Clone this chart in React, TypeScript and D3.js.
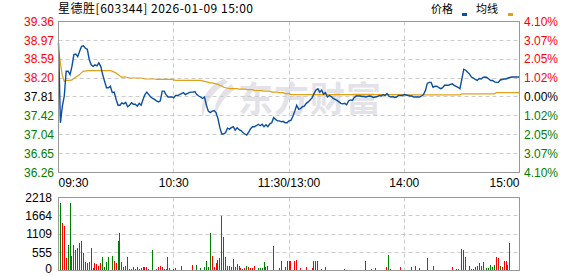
import React from "react";
import * as d3 from "d3";

const W = 578;
const H = 276;

const title = "星德胜[603344] 2026-01-09 15:00";
const legendNames = ["价格", "均线"];
const legendColors = ["#0b4fa0", "#e0a11b"];

const prevClose = 37.81;
const priceTicks = [39.36, 38.97, 38.59, 38.2, 37.81, 37.42, 37.04, 36.65, 36.26];
const priceTickLabels = ["39.36", "38.97", "38.59", "38.20", "37.81", "37.42", "37.04", "36.65", "36.26"];
const pctTickLabels = ["4.10%", "3.07%", "2.05%", "1.02%", "0.00%", "1.02%", "2.05%", "3.07%", "4.10%"];
const volTicks = [2218, 1664, 1109, 555, 0];
const timeLabels = ["09:30", "10:30", "11:30/13:00", "14:00", "15:00"];
const timeTickIdx = [0, 60, 120, 180, 240];

const price = [
  38.92, 37.28, 37.62, 37.83, 38.34, 38.34, 38.27, 38.44, 38.68, 38.69,
  38.64, 38.75, 38.85, 38.86, 38.81, 38.79, 38.58, 38.47, 38.44, 38.47,
  38.45, 38.51, 38.44, 38.27, 38.13, 38.0, 38.0, 38.03, 37.9, 37.91,
  37.76, 37.64, 37.64, 37.69, 37.67, 37.7, 37.61, 37.64, 37.69, 37.66,
  37.66, 37.62, 37.68, 37.64, 37.76, 37.86, 37.91, 37.86, 37.81, 37.78,
  37.76, 37.73, 37.71, 37.73, 37.93, 37.93, 37.86, 37.81, 37.81, 37.81,
  37.79, 37.84, 37.84, 37.86, 37.88, 37.9, 37.86, 37.88, 37.9, 37.91,
  37.91, 37.92, 37.86, 37.83, 37.81, 37.78, 37.81, 37.64, 37.52, 37.49,
  37.52, 37.53, 37.49, 37.37, 37.18, 37.05, 37.05, 37.08, 37.17, 37.15,
  37.18, 37.2, 37.13, 37.18, 37.14, 37.12, 37.08, 37.05, 37.03, 37.09,
  37.16, 37.2, 37.2, 37.22, 37.25, 37.22, 37.25, 37.2, 37.24, 37.2,
  37.26, 37.28, 37.39, 37.35, 37.32, 37.32, 37.3, 37.31, 37.28, 37.28,
  37.32, 37.33, 37.41, 37.52, 37.64, 37.56, 37.57, 37.61, 37.62, 37.68,
  37.71, 37.75, 37.79, 37.88, 37.95, 37.98, 37.91, 37.95, 37.87, 37.9,
  37.81, 37.84, 37.82, 37.78, 37.76, 37.74, 37.71, 37.68, 37.67, 37.68,
  37.65, 37.73, 37.75, 37.74, 37.8, 37.83, 37.83, 37.83, 37.82, 37.82,
  37.81, 37.82, 37.83, 37.82, 37.8, 37.81, 37.82, 37.84, 37.83, 37.86,
  37.84, 37.88, 37.83, 37.81, 37.82, 37.8, 37.81, 37.84, 37.84, 37.84,
  37.86, 37.85, 37.84, 37.83, 37.83, 37.81, 37.81, 37.81, 37.81, 37.83,
  37.86, 37.94, 38.09, 38.11, 38.11, 38.01, 38.03, 38.03, 38.0, 37.98,
  38.0, 38.05, 38.05, 38.05, 38.07, 38.08, 38.05, 38.03, 38.01, 37.98,
  38.18, 38.38, 38.36, 38.32, 38.28, 38.22, 38.2, 38.17, 38.15, 38.19,
  38.18, 38.21, 38.22, 38.21, 38.18, 38.15, 38.15, 38.12, 38.11, 38.11,
  38.16, 38.17, 38.18, 38.18, 38.2, 38.21, 38.22, 38.22, 38.22, 38.22,
  38.22,
];

const avgLine = [
  38.8, 38.5, 38.25, 38.13, 38.15, 38.15, 38.15, 38.16, 38.19, 38.22,
  38.24, 38.27, 38.31, 38.34, 38.34, 38.35, 38.35, 38.35, 38.35, 38.35,
  38.35, 38.35, 38.35, 38.35, 38.35, 38.35, 38.35, 38.35, 38.34, 38.32,
  38.3, 38.27, 38.24, 38.22, 38.22, 38.22, 38.21, 38.2, 38.2, 38.2,
  38.2, 38.2, 38.2, 38.2, 38.19, 38.18, 38.18, 38.18, 38.18, 38.18,
  38.18, 38.17, 38.17, 38.17, 38.17, 38.17, 38.17, 38.17, 38.17, 38.17,
  38.16, 38.15, 38.15, 38.15, 38.15, 38.15, 38.15, 38.15, 38.15, 38.15,
  38.15, 38.15, 38.15, 38.15, 38.15, 38.14, 38.13, 38.12, 38.11, 38.1,
  38.1, 38.09, 38.08, 38.07, 38.05, 38.04, 38.01, 38.0, 37.99, 37.98,
  37.98, 37.98, 37.98, 37.98, 37.97, 37.97, 37.97, 37.97, 37.96, 37.96,
  37.96, 37.96, 37.94, 37.94, 37.94, 37.94, 37.94, 37.93, 37.93, 37.93,
  37.93, 37.91, 37.91, 37.91, 37.91, 37.9, 37.9, 37.9, 37.88, 37.88,
  37.88, 37.86, 37.86, 37.86, 37.86, 37.86, 37.86, 37.86, 37.86, 37.86,
  37.86, 37.86, 37.86, 37.86, 37.86, 37.86, 37.86, 37.86, 37.86, 37.86,
  37.86, 37.86, 37.86, 37.86, 37.86, 37.86, 37.86, 37.86, 37.86, 37.86,
  37.86, 37.86, 37.86, 37.86, 37.86, 37.86, 37.86, 37.86, 37.86, 37.86,
  37.86, 37.86, 37.86, 37.86, 37.86, 37.86, 37.86, 37.86, 37.86, 37.86,
  37.86, 37.86, 37.86, 37.86, 37.86, 37.86, 37.86, 37.86, 37.86, 37.86,
  37.86, 37.855, 37.855, 37.855, 37.855, 37.855, 37.855, 37.855, 37.855, 37.855,
  37.855, 37.855, 37.855, 37.855, 37.855, 37.855, 37.855, 37.855, 37.855, 37.855,
  37.855, 37.855, 37.855, 37.855, 37.855, 37.855, 37.855, 37.855, 37.855, 37.855,
  37.875, 37.875, 37.875, 37.875, 37.875, 37.875, 37.875, 37.875, 37.875, 37.875,
  37.875, 37.875, 37.875, 37.875, 37.875, 37.875, 37.875, 37.875, 37.9, 37.9,
  37.9, 37.9, 37.9, 37.9, 37.9, 37.9, 37.9, 37.9, 37.9, 37.9,
  37.9,
];

const volume = [
  0, 2066, 1431, 1361, 373, 786, 2036, 454, 786, 635,
  675, 827, 887, 524, 252, 222, 252, 675, 81, 222,
  202, 151, 222, 403, 101, 252, 423, 30, 453, 282,
  222, 907, 1129, 252, 101, 151, 403, 50, 50, 101,
  50, 101, 50, 70, 101, 121, 121, 40, 30, 625,
  30, 60, 101, 151, 101, 40, 50, 423, 81, 30,
  40, 91, 30, 30, 151, 30, 30, 30, 30, 30,
  171, 30, 171, 30, 70, 30, 101, 282, 121, 1129,
  433, 101, 222, 323, 373, 1663, 1008, 423, 151, 151,
  101, 353, 101, 202, 151, 81, 50, 70, 151, 101,
  81, 81, 131, 30, 81, 70, 81, 252, 101, 151,
  30, 30, 756, 30, 30, 81, 302, 30, 101, 282,
  282, 282, 30, 282, 323, 30, 81, 30, 30, 121,
  30, 30, 70, 282, 282, 282, 30, 50, 30, 121,
  30, 20, 30, 20, 30, 20, 30, 20, 30, 50,
  20, 30, 20, 30, 20, 30, 20, 30, 20, 30,
  282, 30, 30, 50, 20, 70, 30, 30, 30, 30,
  20, 121, 484, 60, 30, 30, 30, 20, 121, 30,
  30, 30, 30, 30, 101, 30, 151, 30, 81, 30,
  30, 30, 383, 30, 30, 151, 30, 30, 30, 30,
  30, 30, 30, 30, 20, 121, 30, 50, 60, 30,
  655, 625, 403, 30, 151, 60, 60, 111, 151, 232,
  151, 252, 30, 81, 81, 171, 101, 171, 423, 393,
  151, 101, 302, 302, 181, 847, 30, 20, 20, 30,
  635,
];

// 1 = up (red), 0 = down (green)
const volUp = [
  0, 0, 1, 1, 1, 0, 0, 1, 1, 0,
  0, 1, 1, 1, 0, 1, 1, 0, 1, 1,
  1, 1, 1, 0, 0, 0, 0, 1, 0, 1,
  1, 0, 0, 1, 0, 1, 0, 0, 0, 0,
  1, 0, 1, 1, 1, 1, 1, 0, 0, 0,
  1, 0, 1, 1, 1, 1, 0, 0, 0, 1,
  0, 1, 1, 0, 1, 0, 0, 1, 1, 1,
  1, 0, 0, 1, 0, 1, 0, 0, 0, 0,
  1, 1, 1, 0, 0, 0, 0, 1, 1, 1,
  1, 0, 0, 0, 1, 1, 0, 1, 0, 1,
  1, 1, 1, 1, 0, 0, 0, 0, 1, 0,
  0, 1, 1, 0, 1, 0, 0, 1, 1, 0,
  1, 1, 0, 1, 1, 0, 1, 1, 0, 1,
  0, 1, 1, 1, 1, 0, 0, 0, 1, 0,
  1, 1, 1, 0, 0, 0, 0, 0, 0, 0,
  1, 1, 1, 1, 1, 1, 1, 1, 1, 1,
  1, 1, 0, 1, 1, 1, 0, 0, 1, 1,
  0, 1, 0, 1, 0, 0, 1, 1, 1, 0,
  0, 0, 0, 0, 1, 0, 1, 0, 1, 1,
  0, 0, 1, 1, 0, 0, 0, 0, 1, 0,
  1, 1, 0, 1, 1, 1, 0, 0, 0, 1,
  1, 1, 0, 0, 0, 1, 0, 1, 1, 1,
  0, 1, 0, 0, 0, 0, 0, 0, 1, 1,
  0, 1, 1, 1, 1, 1, 0, 1, 1, 1,
  1,
];

const FONT = "'Liberation Sans', Arial, sans-serif";
const CJK = "'Noto Sans CJK SC', sans-serif";
const RED = "#ff0000";
const GREEN = "#008000";
const GRID = "#cccccc";
const BORDER = "#999999";

export default function App() {
  const left = 58.5;
  const right = 519.5;
  const pTop = 21.5;
  const pBot = 172.5;
  const vTop = 197.5;
  const vBot = 270.5;

  const x = d3.scaleLinear().domain([0, 240]).range([left, right]);
  const yP = d3.scaleLinear().domain([36.26, 39.36]).range([pBot, pTop]);
  const yV = d3.scaleLinear().domain([0, 2218]).range([vBot, vTop]);

  const line = d3
    .line<number>()
    .x((_, i) => x(i))
    .y((d) => yP(d));

  const labelColor = (v: number) =>
    Math.abs(v - prevClose) < 0.001 ? "#000" : v > prevClose ? RED : GREEN;

  const crisp = (v: number) => Math.round(v - 0.5) + 0.5;

  return (
    <svg
      width={W}
      height={H}
      style={{ position: "absolute", left: 0, top: 0, background: "#fff" }}
    >
      {/* title */}
      <text x={58} y={13} fontFamily={CJK} fontSize={12} fill="#000" textLength={195} lengthAdjust="spacing">
        {title}
      </text>
      {/* legend */}
      <text x={431} y={13} fontFamily={CJK} fontSize={11} fill="#000">{legendNames[0]}</text>
      <rect x={462} y={13} width={5} height={3} fill={legendColors[0]} />
      <text x={476} y={13} fontFamily={CJK} fontSize={11} fill="#000">{legendNames[1]}</text>
      <rect x={508} y={13} width={5} height={3} fill={legendColors[1]} />

      {/* watermark */}
      <g fill="#e2e2e8">
        <path d="M224 79 C207 86 199 101 203 117 C205 104 212 92 228 82 Z" />
        <path d="M231 84 C220 92 213 104 215 116 C219 105 225 96 235 89 Z" />
        <text x={238} y={112} fontFamily={CJK} fontSize={35} fontWeight={700} letterSpacing={1}>东方财富</text>
      </g>

      {/* price grid */}
      {priceTicks.slice(1, -1).map((t, i) => (
        <line key={"pg" + i} x1={left} x2={right} y1={crisp(yP(t))} y2={crisp(yP(t))} stroke={GRID} strokeDasharray="4,3" />
      ))}
      {timeTickIdx.slice(1, -1).map((t, i) => (
        <line key={"pv" + i} x1={crisp(x(t))} x2={crisp(x(t))} y1={pTop} y2={pBot} stroke={GRID} strokeDasharray="4,3" />
      ))}

      {/* lines */}
      <path d={line(avgLine) || ""} fill="none" stroke={legendColors[1]} strokeWidth={1.2} />
      <path d={line(price) || ""} fill="none" stroke={legendColors[0]} strokeWidth={1.4} />

      <rect x={left} y={pTop} width={right - left} height={pBot - pTop} fill="none" stroke={BORDER} strokeWidth={1} />

      {/* price labels */}
      {priceTicks.map((t, i) => (
        <text key={"pl" + i} x={54} y={yP(t)} dy="0.36em" textAnchor="end" fontFamily={FONT} fontSize={12} fill={labelColor(t)}>
          {priceTickLabels[i]}
        </text>
      ))}
      {priceTicks.map((t, i) => (
        <text key={"pr" + i} x={524} y={yP(t)} dy="0.36em" textAnchor="start" fontFamily={FONT} fontSize={12} fill={labelColor(t)}>
          {pctTickLabels[i]}
        </text>
      ))}

      {/* time labels */}
      {timeTickIdx.map((t, i) => (
        <text
          key={"tl" + i}
          x={i === 0 ? left : i === timeTickIdx.length - 1 ? right : x(t)}
          y={186.5}
          textAnchor={i === 0 ? "start" : i === timeTickIdx.length - 1 ? "end" : "middle"}
          fontFamily={FONT}
          fontSize={12}
          fill="#000"
        >
          {timeLabels[i]}
        </text>
      ))}

      {/* volume grid */}
      {volTicks.slice(1, -1).map((t, i) => (
        <line key={"vg" + i} x1={left} x2={right} y1={crisp(yV(t))} y2={crisp(yV(t))} stroke={GRID} strokeDasharray="4,3" />
      ))}
      {timeTickIdx.slice(1, -1).map((t, i) => (
        <line key={"vv" + i} x1={crisp(x(t))} x2={crisp(x(t))} y1={vTop} y2={vBot} stroke={GRID} strokeDasharray="4,3" />
      ))}

      {/* volume bars */}
      {volume.map((v, i) => {
        const top = Math.round(yV(v));
        const bottom = Math.round(vBot);
        return (
          <rect
            key={"vb" + i}
            x={Math.floor(x(i))}
            y={top}
            width={1}
            height={Math.max(0, bottom - top)}
            fill={volUp[i] ? RED : GREEN}
            shapeRendering="crispEdges"
          />
        );
      })}

      <rect x={left} y={vTop} width={right - left} height={vBot - vTop} fill="none" stroke={BORDER} strokeWidth={1} />

      {volTicks.map((t, i) => (
        <text key={"vl" + i} x={52} y={Math.min(yV(t), 268.5)} dy="0.36em" textAnchor="end" fontFamily={FONT} fontSize={12} fill="#000">
          {String(t)}
        </text>
      ))}
    </svg>
  );
}
